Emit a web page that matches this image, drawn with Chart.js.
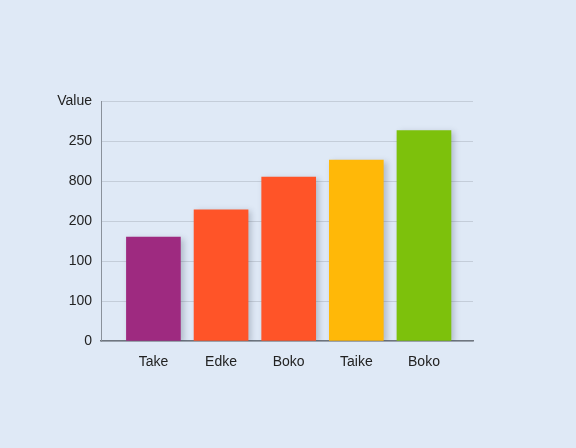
<!DOCTYPE html>
<html>
<head>
<meta charset="utf-8">
<script src="https://cdn.jsdelivr.net/npm/chart.js@4"></script>
<style>
  html, body { margin: 0; padding: 0; background: #dfe9f6; }
  #wrap { width: 576px; height: 448px; }
</style>
</head>
<body>
<div id="wrap"><canvas id="barChart"></canvas></div>
<script>
var categories = ['Take', 'Edke', 'Boko', 'Taike', 'Boko'];
var values = [130, 164, 205, 226, 263];
var barColors = ['#9e2a80', '#ff5428', '#ff5428', '#ffb808', '#7dc10c'];
var yTickLabels = ['0', '100', '100', '200', '800', '250', 'Value'];

// soft drop shadow under the bars
var barShadow = {
    id: 'barShadow',
    beforeDatasetsDraw: function (chart) {
        var ctx = chart.ctx;
        ctx.save();
        ctx.shadowColor = 'rgba(40, 50, 70, 0.25)';
        ctx.shadowBlur = 6;
        ctx.shadowOffsetX = 3;
        ctx.shadowOffsetY = 2;
    },
    afterDatasetsDraw: function (chart) {
        chart.ctx.restore();
    }
};

var points = values.map(function (v, i) { return { x: i, y: v }; });

new Chart('barChart', {
    type: 'bar',
    data: {
        datasets: [{
            data: points,
            backgroundColor: barColors,
            borderWidth: 0,
            barThickness: 54
        }]
    },
    plugins: [barShadow],
    options: {
        responsive: true,
        maintainAspectRatio: false,
        animation: false,
        layout: { padding: { left: 0, right: 103, top: 101, bottom: 67 } },
        plugins: {
            legend: { display: false },
            tooltip: { enabled: false }
        },
        scales: {
            x: {
                type: 'linear',
                offset: false,
                min: -0.775,
                max: 4.725,
                afterBuildTicks: function (s) {
                    s.ticks = categories.map(function (c, i) { return { value: i }; });
                },
                afterFit: function (s) { s.height = 40; },
                grid: { display: false, offset: false },
                border: { display: true, color: '#6f7680', width: 1.5 },
                ticks: {
                    padding: 5,
                    color: '#222',
                    font: { family: 'Liberation Sans', size: 14 },
                    callback: function (v) { return categories[v]; }
                }
            },
            y: {
                min: 0,
                max: 300,
                afterFit: function (s) { s.width = 101; },
                grid: { color: '#c4cdd9', lineWidth: 1, drawTicks: false },
                border: { display: true, color: '#8a919b', width: 1 },
                ticks: {
                    stepSize: 50,
                    padding: 9,
                    color: '#222',
                    font: { family: 'Liberation Sans', size: 14 },
                    callback: function (v) { return yTickLabels[Math.round(v / 50)]; }
                }
            }
        }
    }
});
</script>
</body>
</html>
